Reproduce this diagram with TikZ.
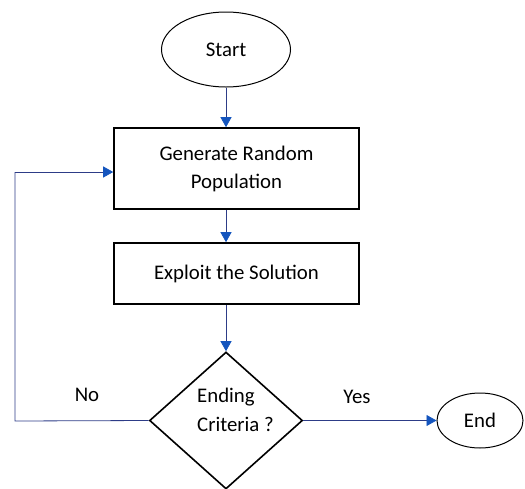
\documentclass[tikz,border=0pt]{standalone}
\usepackage{fontspec}
\setmainfont{Carlito}
\usetikzlibrary{shapes.geometric,arrows.meta}
\definecolor{linecol}{RGB}{45,60,135}
\definecolor{headcol}{RGB}{20,85,190}
\tikzset{
  boxstyle/.style={draw=black,line width=1.6pt,minimum width=245pt,align=center,font=\fontsize{20.8}{28}\selectfont,inner sep=0pt},
  ovalstyle/.style={draw=black,line width=1pt,ellipse,inner sep=0pt,font=\fontsize{20.8}{24}\selectfont},
  diastyle/.style={draw=black,line width=1.6pt,diamond,inner sep=0pt,minimum width=153pt,minimum height=137pt},
  conn/.style={draw=linecol,line width=0.8pt,-{Triangle[width=11pt,length=10pt,fill=headcol,color=headcol]}},
  plainconn/.style={draw=linecol,line width=0.8pt},
  lbl/.style={font=\fontsize{20.8}{29}\selectfont,inner sep=0pt}
}
\begin{document}
\begin{tikzpicture}[x=1pt,y=1pt]
\useasboundingbox (0,0) rectangle (525,-488);
\node[ovalstyle,minimum width=129pt,minimum height=75pt] (start) at (226,-49.5) {Start};
\node[boxstyle,minimum height=81pt] (gen) at (236.5,-168.5) {Generate Random\\Population};
\node[boxstyle,minimum height=61pt] (exp) at (236.5,-273.5) {Exploit the Solution};
\node[diastyle] (dec) at (226,-420.5) {};
\node[lbl,align=left,anchor=west] (dectext) at (197,-410) {Ending\\Criteria ?};
\node[ovalstyle,minimum width=86pt,minimum height=55pt] (end) at (480,-420.5) {End};
\node[lbl] (no) at (87,-395) {No};
\node[lbl] (yes) at (357,-397) {Yes};
\coordinate (c1) at (15,-421);
\coordinate (c2) at (15,-172);
\draw[conn] (start.south) -- (start.south |- gen.north);
\draw[conn] (gen.south -| start.south) -- (exp.north -| start.south);
\draw[conn] (exp.south -| dec.north) -- (dec.north);
\draw[conn] (dec.east) -- (end.west);
\draw[plainconn] (dec.west) -- (c1) -- (c2);
\draw[conn] (c2) -- (gen.west |- c2);
\end{tikzpicture}
\end{document}
